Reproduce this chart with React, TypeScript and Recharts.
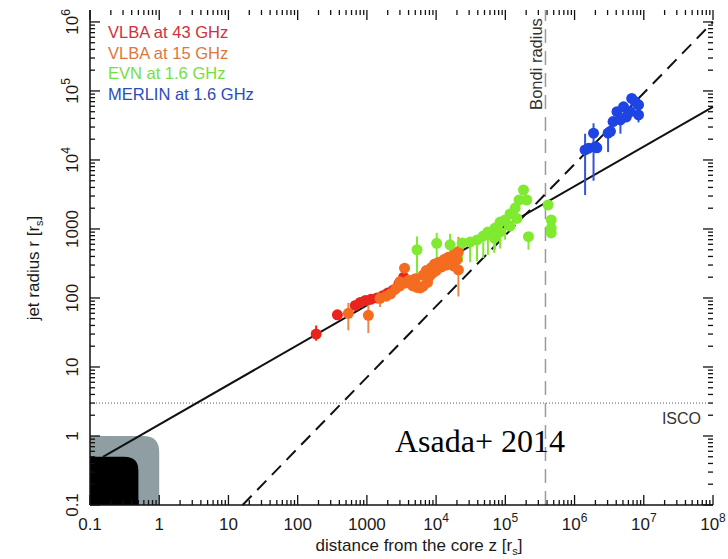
import React from 'react';
import { ScatterChart, Scatter, XAxis, YAxis, ErrorBar, ReferenceLine, ReferenceArea } from 'recharts';

const SANS = '"Liberation Sans", Arial, Helvetica, sans-serif';
const SERIF = '"Liberation Serif", "Times New Roman", serif';

// jet width measurements, [z, r, rLow, rHigh] in r_s (rLow = 0 means no error bar drawn)
const vlba43 = [
  [185, 30, 24, 40], [375, 57, 0, 0], [680, 78, 0, 0], [800, 86, 0, 0],
  [950, 92, 0, 0], [1150, 96, 0, 0], [1400, 100, 0, 0], [1700, 108, 0, 0],
  [2000, 118, 0, 0], [2400, 130, 0, 0], [2900, 160, 0, 0], [3400, 200, 0, 0],
];

const vlba15 = [
  [540, 60, 34, 85], [1050, 56, 31, 93], [1550, 99, 74, 99], [1900, 106, 0, 0],
  [2200, 115, 0, 0], [2600, 135, 0, 0], [3000, 150, 0, 0], [3000, 172, 0, 0],
  [3500, 270, 0, 0], [3600, 165, 0, 0], [4000, 180, 0, 0], [4500, 168, 0, 0],
  [4600, 150, 0, 0], [5000, 190, 0, 0], [5300, 142, 0, 0], [5900, 140, 0, 0],
  [6500, 148, 0, 0], [6500, 215, 0, 0], [7200, 250, 0, 0], [7500, 168, 0, 0],
  [8000, 205, 0, 0], [8500, 275, 0, 0], [9000, 232, 0, 0], [9500, 310, 0, 0],
  [10000, 250, 0, 0], [11000, 330, 0, 0], [12000, 282, 0, 0], [13000, 360, 0, 0],
  [14000, 300, 0, 0], [15000, 390, 0, 0], [16000, 330, 0, 0], [17500, 410, 0, 0],
  [18000, 290, 0, 0], [19000, 440, 0, 0], [20000, 360, 0, 0], [21000, 255, 0, 0],
  [21000, 470, 105, 770],
];

const evn = [
  [5300, 500, 180, 780], [10200, 620, 355, 880], [15900, 590, 400, 850],
  [23800, 627, 330, 627], [31000, 646, 330, 646], [39000, 693, 340, 693],
  [48000, 792, 380, 792], [56000, 906, 420, 906], [69000, 740, 450, 740],
  [71000, 1030, 500, 1030], [84000, 1260, 600, 1260], [84000, 906, 520, 906],
  [99000, 1350, 700, 1350], [117000, 1650, 0, 0], [117000, 1100, 0, 0],
  [139000, 2010, 0, 0], [147000, 1420, 0, 0], [158000, 2630, 0, 0],
  [183000, 3670, 0, 0], [204000, 2630, 0, 0], [216000, 773, 500, 773],
  [415000, 2230, 0, 0], [460000, 1350, 0, 0], [460000, 1030, 0, 0], [460000, 875, 0, 0],
];

const merlin = [
  [1420000, 14000, 3100, 24000], [1600000, 14800, 0, 0], [1880000, 24400, 5000, 34000],
  [2000000, 15600, 0, 0], [2100000, 15000, 0, 0], [3050000, 24500, 13000, 26000],
  [3300000, 26000, 0, 0], [3600000, 36000, 0, 0], [4100000, 50000, 0, 0],
  [4600000, 38000, 24000, 45000], [5100000, 59000, 0, 0], [5600000, 42000, 0, 0],
  [6400000, 50000, 0, 0], [6700000, 78000, 0, 0], [7500000, 70000, 0, 0],
  [8400000, 63000, 0, 0], [8400000, 45000, 35000, 50000],
];

// fitted profiles, [z, r] end points
const parabolicFit = [[0.154, 0.5], [1e8, 59000]];
const conicalFit = [[16, 0.1], [1e8, 1e6]];

const iscoRadius = 3;
const bondiRadius = 3.8e5;
const eventHorizon = [0.5, 0.5];
const ergoRegion = [1, 1];

const xMajor = [0.1, 1, 10, 100, 1000, 1e4, 1e5, 1e6, 1e7, 1e8];
const xLabels = ['0.1', '1', '10', '100', '1000', '10^4', '10^5', '10^6', '10^7', '10^8'];
const yMajor = [0.1, 1, 10, 100, 1000, 1e4, 1e5, 1e6];
const yLabels = ['0.1', '1', '10', '100', '1000', '10^4', '10^5', '10^6'];
const minorSteps = [2, 3, 4, 5, 6, 7, 8, 9];

const X_DOMAIN = [0.1, 1e8];
const Y_DOMAIN = [0.1, 1.49e6];

const minorOf = (majors: number[], max: number) => {
  const out: number[] = [];
  majors.forEach((m) => minorSteps.forEach((s) => { if (m * s < max) out.push(m * s); }));
  return out;
};
const xMinor = minorOf(xMajor, X_DOMAIN[1]);
const yMinor = minorOf(yMajor, Y_DOMAIN[1]);

const toPoints = (rows: number[][]) =>
  rows.map(([z, r, lo, hi]) => ({ z, r, err: lo > 0 ? [r - lo, hi - r] : [0, 0] }));

const series = [
  { name: 'VLBA at 43 GHz', rows: vlba43, color: '#e8241c', bar: '#e8241c', text: '#d1303a' },
  { name: 'VLBA at 15 GHz', rows: vlba15, color: '#f46c20', bar: '#e88a4c', text: '#dc773e' },
  { name: 'EVN at 1.6 GHz', rows: evn, color: '#80ea30', bar: '#80ea30', text: '#74e040' },
  { name: 'MERLIN at 1.6 GHz', rows: merlin, color: '#1f44e4', bar: '#3554d8', text: '#2c4abc' },
];

const tickText = (label: string) => {
  if (!label.includes('^')) return label;
  const [base, exp] = label.split('^');
  return (
    <>
      {base}
      <tspan dy={-8} fontSize={12}>{exp}</tspan>
    </>
  );
};

const makeLabel = (side: string, labels: string[]) => (props: any) => {
  const x = Number(props.x);
  const y = Number(props.y);
  const text = labels[props.index] ?? '';
  if (side === 'bottom') {
    return (
      <text x={x} y={y + 25} textAnchor="middle" fontSize={17} fontFamily={SANS} fill="#1a1a1a">
        {tickText(text)}
      </text>
    );
  }
  const tx = x - 12;
  return (
    <text x={tx} y={y} transform={`rotate(-90 ${tx} ${y})`} textAnchor="middle"
      fontSize={17} fontFamily={SANS} fill="#1a1a1a">
      {tickText(text)}
    </text>
  );
};

// inward tick marks at both ends of a full-span reference line (mirrored on opposite axes)
const tickMarks = (len: number) => (props: any) => {
  const { x1, y1, x2, y2 } = props;
  const s = { stroke: '#111', strokeWidth: 1.3 };
  if (Math.abs(x1 - x2) < 0.5) {
    const lo = Math.max(y1, y2);
    const hi = Math.min(y1, y2);
    return (
      <g>
        <line x1={x1} x2={x1} y1={lo} y2={lo - len} {...s} />
        <line x1={x1} x2={x1} y1={hi} y2={hi + len} {...s} />
      </g>
    );
  }
  const l = Math.min(x1, x2);
  const r = Math.max(x1, x2);
  return (
    <g>
      <line x1={l} x2={l + len} y1={y1} y2={y1} {...s} />
      <line x1={r} x2={r - len} y1={y1} y2={y1} {...s} />
    </g>
  );
};

// rounded top-right corner, like the shaded regions in the original figure
const roundedBox = (fill: string, radius: number) => (props: any) => {
  const { x, y, width, height } = props;
  const rr = Math.min(radius, width, height);
  const d = `M${x},${y + height} L${x},${y} L${x + width - rr},${y} Q${x + width},${y} ${x + width},${y + rr} L${x + width},${y + height} Z`;
  return <path d={d} fill={fill} />;
};

const axisLine = { stroke: '#111', strokeWidth: 1.5 };

export default function App() {
  return (
    <div style={{ position: 'absolute', left: 0, top: 0, width: 728, height: 559, background: '#fff' }}>
      <ScatterChart width={728} height={559} margin={{ top: 10, right: 15, bottom: 0, left: 0 }}>
        <XAxis xAxisId="b" dataKey="z" type="number" scale="log" domain={X_DOMAIN} allowDataOverflow
          ticks={xMajor} interval={0} tickSize={0} tickMargin={0} tickLine={false}
          axisLine={axisLine} height={54} tick={makeLabel('bottom', xLabels)} />
        <XAxis xAxisId="t" orientation="top" type="number" scale="log" domain={X_DOMAIN} allowDataOverflow
          ticks={xMajor} tickLine={false} tick={false} axisLine={axisLine} height={0} />
        <YAxis yAxisId="l" dataKey="r" type="number" scale="log" domain={Y_DOMAIN} allowDataOverflow
          ticks={yMajor} interval={0} tickSize={0} tickMargin={0} tickLine={false}
          axisLine={axisLine} width={90} tick={makeLabel('left', yLabels)} />
        <YAxis yAxisId="r" orientation="right" type="number" scale="log" domain={Y_DOMAIN} allowDataOverflow
          ticks={yMajor} tickLine={false} tick={false} axisLine={axisLine} width={0} />

        <ReferenceArea xAxisId="b" yAxisId="l" x1={0.1} x2={ergoRegion[0]} y1={0.1} y2={ergoRegion[1]}
          ifOverflow="visible" shape={roundedBox('#8e9ea3', 16)} />
        <ReferenceArea xAxisId="b" yAxisId="l" x1={0.1} x2={eventHorizon[0]} y1={0.1} y2={eventHorizon[1]}
          ifOverflow="visible" shape={roundedBox('#000', 14)} />

        {xMajor.map((v) => (
          <ReferenceLine key={`xM${v}`} xAxisId="b" yAxisId="l" x={v} ifOverflow="visible" shape={tickMarks(10)} />
        ))}
        {xMinor.map((v) => (
          <ReferenceLine key={`xm${v}`} xAxisId="b" yAxisId="l" x={v} ifOverflow="visible" shape={tickMarks(5)} />
        ))}
        {yMajor.map((v) => (
          <ReferenceLine key={`yM${v}`} xAxisId="b" yAxisId="l" y={v} ifOverflow="visible" shape={tickMarks(10)} />
        ))}
        {yMinor.map((v) => (
          <ReferenceLine key={`ym${v}`} xAxisId="b" yAxisId="l" y={v} ifOverflow="visible" shape={tickMarks(5)} />
        ))}

        <ReferenceLine xAxisId="b" yAxisId="l" y={iscoRadius} stroke="#555" strokeWidth={1}
          strokeDasharray="1 2" />
        <ReferenceLine xAxisId="b" yAxisId="l" x={bondiRadius} stroke="#9a9a9a" strokeWidth={1.5}
          strokeDasharray="14 8" />
        <ReferenceLine xAxisId="b" yAxisId="l" ifOverflow="visible"
          segment={parabolicFit.map(([x, y]) => ({ x, y }))} stroke="#111" strokeWidth={2} />
        <ReferenceLine xAxisId="b" yAxisId="l" ifOverflow="visible"
          segment={conicalFit.map(([x, y]) => ({ x, y }))} stroke="#111" strokeWidth={2}
          strokeDasharray="13 8" />

        {series.map((s) => (
          <Scatter key={s.name} name={s.name} xAxisId="b" yAxisId="l" data={toPoints(s.rows)}
            isAnimationActive={false}
            shape={(p: any) => <circle cx={p.cx} cy={p.cy} r={5.5} fill={s.color} />}>
            <ErrorBar dataKey="err" direction="y" width={0} stroke={s.bar} strokeWidth={2}
              isAnimationActive={false} />
          </Scatter>
        ))}
      </ScatterChart>

      <svg width={728} height={559} style={{ position: 'absolute', left: 0, top: 0, pointerEvents: 'none' }}>
        {series.map((s, i) => (
          <text key={s.name} x={108} y={38 + i * 20.7} fontSize={16.5} fontFamily={SANS} fill={s.text}>
            {s.name}
          </text>
        ))}
        <text x={542} y={64} transform="rotate(-90 542 64)" textAnchor="middle" fontSize={16.5}
          fontFamily={SANS} fill="#333">Bondi radius</text>
        <text x={701} y={424} textAnchor="end" fontSize={16} fontFamily={SANS} fill="#333">ISCO</text>
        <text x={395} y={452} fontSize={32} fontFamily={SERIF} fill="#000">Asada+ 2014</text>
        <text x={419} y={551} textAnchor="middle" fontSize={17} fontFamily={SANS} fill="#1a1a1a">
          distance from the core z [r<tspan dy={4} fontSize={11}>s</tspan><tspan dy={-4}>]</tspan>
        </text>
        <text x={39} y={268} transform="rotate(-90 39 268)" textAnchor="middle" fontSize={17}
          fontFamily={SANS} fill="#1a1a1a">
          jet radius r [r<tspan dy={4} fontSize={11}>s</tspan><tspan dy={-4}>]</tspan>
        </text>
      </svg>
    </div>
  );
}
